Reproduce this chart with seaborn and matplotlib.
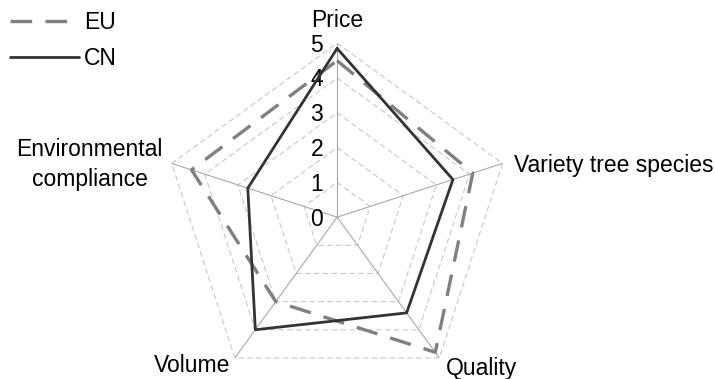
import numpy as np
import pandas as pd
import seaborn as sns
import matplotlib.pyplot as plt

categories = ['Price', 'Variety tree species', 'Quality', 'Volume', 'Environmental\ncompliance']
eu_values = [4.5, 4.1, 4.8, 3.0, 4.4]
cn_values = [4.85, 3.5, 3.4, 4.0, 2.7]
levels = [0, 1, 2, 3, 4, 5]

sns.set_style('white')
plt.rcParams['font.family'] = ['Liberation Sans', 'DejaVu Sans']
plt.rcParams['text.color'] = 'black'

n = len(categories)
angles = np.linspace(0, 2 * np.pi, n, endpoint=False)
closed = np.append(angles, angles[0])

fig = plt.figure(figsize=(7.15, 3.79), dpi=100)
ax = fig.add_axes([0.228, -0.032, 0.487, 0.918], projection='polar')
ax.set_theta_offset(np.pi / 2)
ax.set_theta_direction(-1)
ax.set_ylim(0, 5)
ax.grid(False)
ax.spines['polar'].set_visible(False)
ax.set_xticks([])
ax.set_yticks([])
ax.patch.set_alpha(0)

# polygon grid and spokes
for lv in levels[1:]:
    ax.plot(closed, [lv] * (n + 1), color='#c8c8c8', lw=0.8, ls=(0, (5, 3)), zorder=1)
for a in angles:
    ax.plot([a, a], [0, 5], color='#a8a8a8', lw=0.8, zorder=1)

df = pd.DataFrame({
    'theta': np.concatenate([closed, closed]),
    'r': eu_values + eu_values[:1] + cn_values + cn_values[:1],
    'series': ['EU'] * (n + 1) + ['CN'] * (n + 1),
})
sns.lineplot(data=df[df.series == 'EU'], x='theta', y='r', sort=False, estimator=None,
             color='#808080', lw=2.4, ax=ax, zorder=3, label='EU').lines[-1].set_dashes((6.5, 4))
sns.lineplot(data=df[df.series == 'CN'], x='theta', y='r', sort=False, estimator=None,
             color='#333333', lw=2.0, ax=ax, zorder=4, label='CN')
ax.set_xlabel('')
ax.set_ylabel('')

# scale labels along the first axis
for lv in levels:
    ax.annotate(str(lv), xy=(0, lv), xytext=(-10, -6), textcoords='offset points',
                fontsize=16.5, ha='right', va='baseline', annotation_clip=False)

# category labels (offsets in points from the outer corner)
offsets = [(0, 11.5, 'center'), (8, -6.5, 'left'), (5, -12, 'left'),
           (-3.6, -10.5, 'right'), (-6.5, -16.5, 'right')]
for a, lab, (dx, dy, ha) in zip(angles, categories, offsets):
    ax.annotate(lab, xy=(a, 5), xytext=(dx, dy), textcoords='offset points', fontsize=16.5,
                ha=ha, va='baseline', multialignment='center', linespacing=1.42,
                annotation_clip=False)

leg = ax.legend(loc='upper left', bbox_to_anchor=(0.005, 0.99), bbox_transform=fig.transFigure,
                frameon=False, fontsize=16.5, handlelength=3.0, handletextpad=0.2,
                labelspacing=0.59, borderaxespad=0.1, borderpad=0.2)

fig.savefig('out.png', dpi=100)
